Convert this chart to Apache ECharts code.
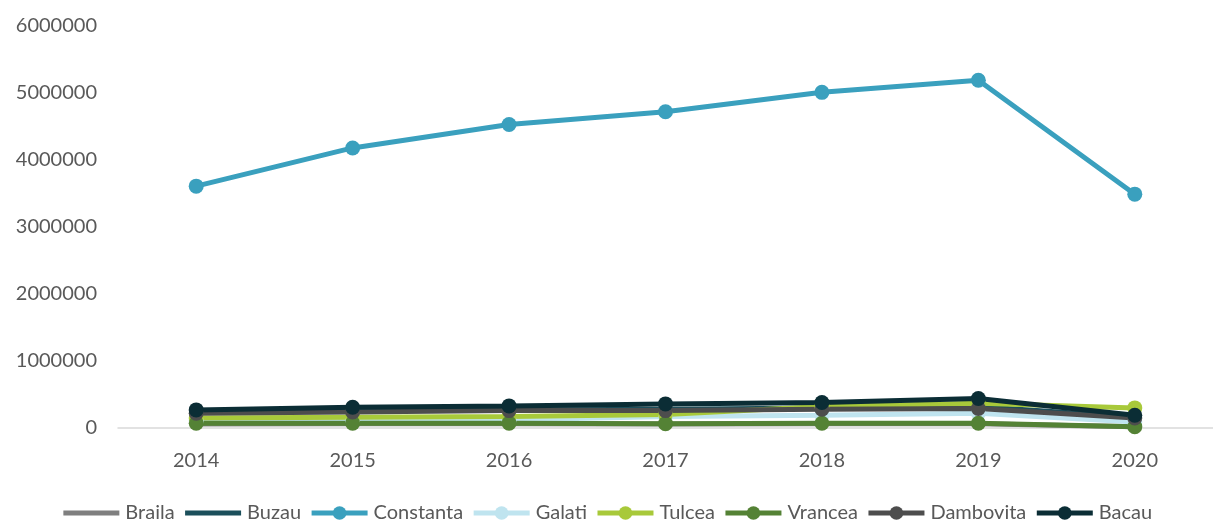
<!DOCTYPE html>
<html>
<head>
<meta charset="utf-8">
<style>
  html, body { margin: 0; padding: 0; background: #ffffff; }
  #chart { width: 1213px; height: 522px; }
</style>
<script src="https://cdn.jsdelivr.net/npm/echarts@6/dist/echarts.min.js"></script>
</head>
<body>
<div id="chart"></div>
<script>
// Years on the category axis
const years = ['2014', '2015', '2016', '2017', '2018', '2019', '2020'];

// County series (values per year)
const braila    = [60000, 65000, 65000, 60000, 65000, 65000, 20000];
const buzau     = [240000, 260000, 270000, 280000, 300000, 320000, 160000];
const constanta = [3610000, 4180000, 4530000, 4720000, 5010000, 5190000, 3490000];
const galati    = [110000, 115000, 120000, 170000, 190000, 220000, 90000];
const tulcea    = [150000, 160000, 170000, 200000, 320000, 370000, 300000];
const vrancea   = [70000, 72000, 72000, 65000, 70000, 70000, 20000];
const dambovita = [220000, 240000, 260000, 260000, 280000, 290000, 150000];
const bacau     = [270000, 310000, 330000, 360000, 380000, 440000, 190000];

// Y axis tick values
const yTicks = [0, 1000000, 2000000, 3000000, 4000000, 5000000, 6000000];

const seriesDefs = [
  { name: 'Braila',    data: braila,    color: '#7f7f7f', marker: false },
  { name: 'Buzau',     data: buzau,     color: '#1b4f5b', marker: false },
  { name: 'Constanta', data: constanta, color: '#3aa0be', marker: true },
  { name: 'Galati',    data: galati,    color: '#bfe4ef', marker: true },
  { name: 'Tulcea',    data: tulcea,    color: '#a8c93a', marker: true },
  { name: 'Vrancea',   data: vrancea,   color: '#548235', marker: true },
  { name: 'Dambovita', data: dambovita, color: '#4d4d4d', marker: true },
  { name: 'Bacau',     data: bacau,     color: '#0b2d35', marker: true }
];

const fontFamily = 'Lato, "Open Sans", sans-serif';
const textColor = '#595959';
const chart = echarts.init(document.getElementById('chart'), null, { renderer: 'canvas' });

chart.setOption({
  animation: false,
  backgroundColor: '#ffffff',
  grid: { left: 118, width: 1106, top: 26, bottom: 94, containLabel: false },
  legend: {
    top: 498,
    left: 'center',
    itemWidth: 56,
    itemHeight: 17,
    itemGap: 8,
    lineStyle: { width: 5 },
    textStyle: { color: textColor, fontSize: 20, fontFamily: fontFamily, padding: [0, 0, 0, 1] },
    // line-only entries for the series drawn without markers
    data: seriesDefs.map(s => s.marker
      ? { name: s.name }
      : { name: s.name, itemStyle: { opacity: 0 } })
  },
  xAxis: {
    type: 'category',
    data: years,
    boundaryGap: true,
    axisLine: { lineStyle: { color: '#d9d9d9', width: 1.5 } },
    axisTick: { show: false },
    axisLabel: { color: textColor, fontSize: 20, fontFamily: fontFamily, margin: 23 }
  },
  yAxis: {
    type: 'value',
    min: yTicks[0],
    max: yTicks[yTicks.length - 1],
    interval: yTicks[1] - yTicks[0],
    axisLine: { show: false },
    axisTick: { show: false },
    splitLine: { show: false },
    axisLabel: {
      color: textColor, fontSize: 20, fontFamily: fontFamily, margin: 21,
      formatter: v => String(v)
    }
  },
  series: seriesDefs.map(s => ({
    name: s.name,
    type: 'line',
    data: s.data,
    color: s.color,
    symbol: s.marker ? 'circle' : 'none',
    showSymbol: s.marker,
    symbolSize: 15,
    lineStyle: { width: 5, color: s.color },
    itemStyle: { color: s.color },
    emphasis: { disabled: true }
  }))
});
</script>
</body>
</html>
